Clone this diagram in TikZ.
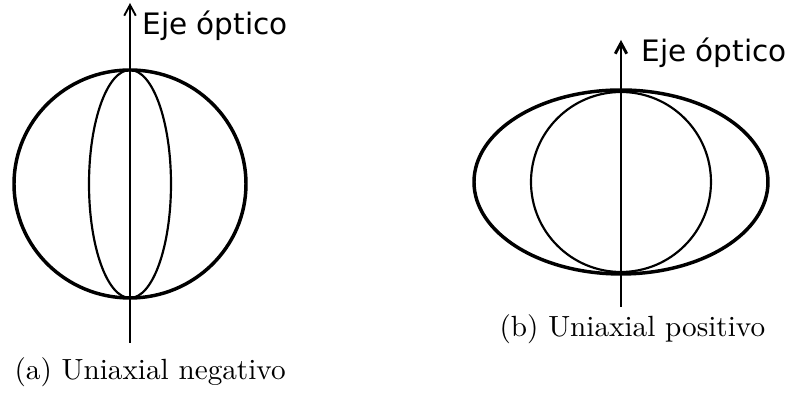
\documentclass[tikz,border=0pt]{standalone}
\usepackage{fontspec}
\usepackage{tikz}
\usetikzlibrary{arrows.meta}
\newfontfamily\axisfont{DejaVu Sans}

\begin{document}
\begin{tikzpicture}[
      x=0.1215mm,
      y=0.1215mm,
      outer/.style={line width=1.2pt},
      inner/.style={line width=0.75pt},
      axis/.style={-{Straight Barb[length=1.3mm,width=1.4mm]}, line width=0.65pt},
      axislabel/.style={anchor=base west, inner sep=0pt, font=\axisfont\fontsize{10.2}{12}\selectfont},
      caption/.style={anchor=base west, inner sep=0pt, font=\fontsize{10.1}{12}\selectfont}
    ]
    \useasboundingbox (0,0) rectangle (790,395);

    % (a) uniaxial negativo
    \coordinate (ca) at (130,211);
    \draw[outer] (ca) ellipse [x radius=116, y radius=114];
    \draw[inner] (ca) ellipse [x radius=41, y radius=114];
    \coordinate (axAbot) at (130,52);
    \coordinate (axAtop) at (130,392);
    \draw[axis] (axAbot) -- (axAtop);
    \node[axislabel] (lblA) at (142,360) {Eje óptico};
    \node[caption] (capA) at (14,15) {(a) Uniaxial negativo};

    % (b) uniaxial positivo
    \coordinate (cb) at (621,213);
    \draw[outer] (cb) ellipse [x radius=147, y radius=92];
    \draw[inner] (cb) circle [radius=90];
    \coordinate (axBbot) at (621,88);
    \coordinate (axBtop) at (621,355);
    \draw[axis, line width=1pt] (axBbot) -- (axBtop);
    \node[axislabel] (lblB) at (641,333) {Eje óptico};
    \node[caption] (capB) at (499,58) {(b) Uniaxial positivo};
  \end{tikzpicture}
\end{document}
